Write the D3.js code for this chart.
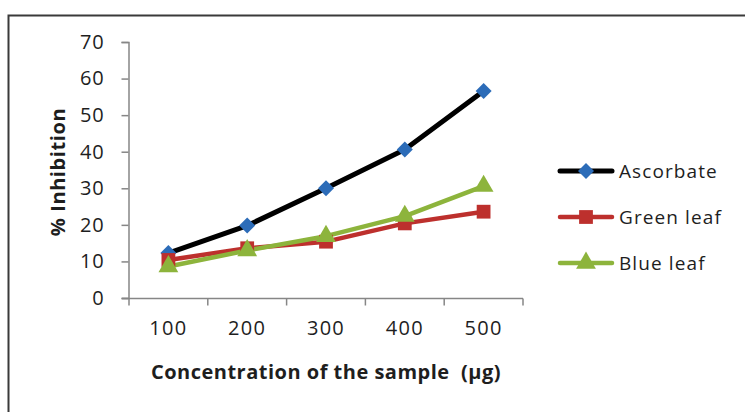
<!DOCTYPE html>
<html>
<head>
<meta charset="utf-8">
<script src="https://cdn.jsdelivr.net/npm/d3@7"></script>
<style>
  html, body { margin: 0; padding: 0; background: #fff; }
  svg text { font-family: "Open Sans", "Liberation Sans", sans-serif; white-space: pre; }
</style>
</head>
<body>
<svg id="chart" width="745" height="412"></svg>
<script>
// Concentrations tested and % inhibition per sample
const concentrations = ["100", "200", "300", "400", "500"];
const ascorbate = [12.3, 19.8, 30, 40.6, 56.6];
const greenLeaf = [10.4, 13.6, 15.4, 20.4, 23.6];
const blueLeaf = [8.6, 13, 16.9, 22.4, 30.6];
const yTicks = [0, 10, 20, 30, 40, 50, 60, 70];

// marker: a square turned 45° for the diamond
const series = [
  { name: "Ascorbate", values: ascorbate, line: "#000000", fill: "#2c6cb8", shape: d3.symbolSquare, rot: 45, lw: 5, size: 128 },
  { name: "Green leaf", values: greenLeaf, line: "#bd302d", fill: "#bd302d", shape: d3.symbolSquare, rot: 0, lw: 4.5, size: 190 },
  { name: "Blue leaf", values: blueLeaf, line: "#8db43c", fill: "#8db43c", shape: d3.symbolTriangle, rot: 0, lw: 4.5, size: 170 }
];

const svg = d3.select("#chart");

// outer frame
svg.append("rect")
  .attr("x", 8.5).attr("y", 15.5)
  .attr("width", 760).attr("height", 420)
  .attr("fill", "none").attr("stroke", "#3a3a3a").attr("stroke-width", 2);

const x = d3.scaleBand().domain(concentrations).range([129, 523]);
const y = d3.scaleLinear().domain([0, 70]).range([298, 42]);

const axisColor = "#868686";
const textColor = "#1e1e1e";

// y axis
const gy = svg.append("g").attr("transform", "translate(128.5,0)")
  .call(d3.axisLeft(y).tickValues(yTicks).tickSize(7).tickPadding(17).tickFormat(d3.format("d")));
gy.select(".domain").attr("stroke", axisColor).attr("stroke-width", 1.5);
gy.selectAll(".tick line").attr("stroke", axisColor).attr("stroke-width", 1.5);
gy.selectAll(".tick text").attr("font-size", 20).attr("fill", textColor)
  .attr("letter-spacing", 0.8)
  .style("font-family", "'Open Sans', sans-serif");

// x axis: ticks on band boundaries, labels at band centres
const gx = svg.append("g").attr("transform", "translate(0,298.5)");
gx.append("line").attr("x1", 122).attr("x2", x.range()[1])
  .attr("stroke", axisColor).attr("stroke-width", 1.5);
const edges = concentrations.map(c => x(c)).concat([x.range()[1]]);
gx.selectAll(".edge").data(edges).join("line")
  .attr("x1", d => d).attr("x2", d => d).attr("y1", 0).attr("y2", 7)
  .attr("stroke", axisColor).attr("stroke-width", 1.5);
gx.selectAll(".lbl").data(concentrations).join("text")
  .attr("x", d => x(d) + x.bandwidth() / 2).attr("y", 36)
  .attr("text-anchor", "middle").attr("font-size", 20).attr("fill", textColor)
  .attr("letter-spacing", 1.3)
  .text(d => d);

// axis titles
svg.append("text")
  .attr("x", 326).attr("y", 379)
  .attr("text-anchor", "middle").attr("font-size", 20).attr("font-weight", "bold").attr("fill", textColor)
  .attr("letter-spacing", 0.5)
  .text("Concentration of the sample  (µg)");
svg.append("text")
  .attr("transform", "translate(65,172) rotate(-90)")
  .attr("text-anchor", "middle").attr("font-size", 20).attr("font-weight", "bold").attr("fill", textColor)
  .attr("letter-spacing", 0.6)
  .text("% Inhibition");

const cx = c => x(c) + x.bandwidth() / 2;
const line = d3.line().x((d, i) => cx(concentrations[i])).y(d => y(d));

// lines, drawn first so markers sit on top
series.forEach(s => {
  svg.append("path").datum(s.values)
    .attr("d", line).attr("fill", "none")
    .attr("stroke", s.line).attr("stroke-width", s.lw)
    .attr("stroke-linejoin", "round");
});
series.forEach(s => {
  const sym = d3.symbol().type(s.shape).size(s.size);
  svg.append("g").selectAll("path").data(s.values).join("path")
    .attr("d", sym)
    .attr("transform", (d, i) => `translate(${cx(concentrations[i])},${y(d)}) rotate(${s.rot})`)
    .attr("fill", s.fill);
});

// legend
const legendY = [171, 217, 263];
series.forEach((s, i) => {
  const g = svg.append("g").attr("transform", `translate(560,${legendY[i]})`);
  g.append("line").attr("x1", 0).attr("x2", 52)
    .attr("stroke", s.line).attr("stroke-width", s.lw).attr("stroke-linecap", "round");
  g.append("path").attr("d", d3.symbol().type(s.shape).size(s.size)())
    .attr("transform", `translate(26,0) rotate(${s.rot})`).attr("fill", s.fill);
  g.append("text").attr("x", 59).attr("y", 6.5)
    .attr("font-size", 19).attr("fill", textColor).attr("letter-spacing", 1.1)
    .text(s.name);
});
</script>
</body>
</html>
